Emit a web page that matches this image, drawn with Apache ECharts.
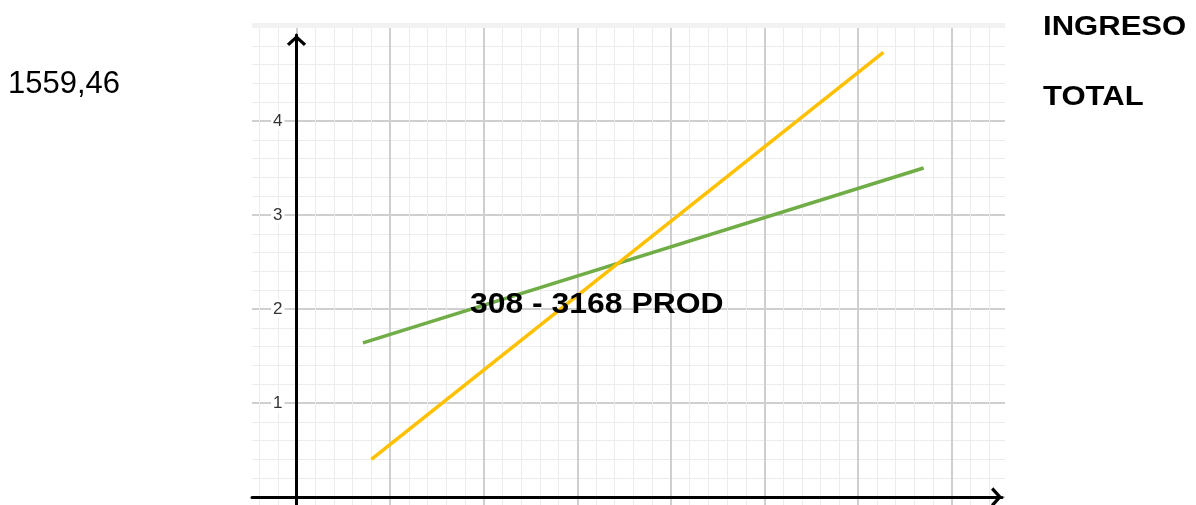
<!DOCTYPE html>
<html>
<head>
<meta charset="utf-8">
<script src="https://cdn.jsdelivr.net/npm/echarts@6/dist/echarts.min.js"></script>
<style>
html,body{margin:0;padding:0;background:#fff;}
#chart{width:1196px;height:505px;}
</style>
</head>
<body>
<div id="chart"></div>
<script>
// ---- data ----
const ingresoX = [0.80, 6.27];
const ingresoY = [0.40, 4.73];
const costoX = [0.71, 6.70];
const costoY = [1.64, 3.50];
const yTickLabels = ['1', '2', '3', '4'];
const leftNote = '1559,46';
const titleLines = ['INGRESO', 'TOTAL'];
const centerNote = '308 - 3168 PROD';

// ---- layout ----
const OX = 296.5, OY = 497, UX = 93.6, UY = 94;
const LEFT = 252, RIGHT = 1002, TOP = 35, BOTTOM = 505;
const FONT = '"Liberation Sans", Arial, sans-serif';

const chev = 'path://M10,0 L20,9 L17.6,11.4 L10,4.4 L2.4,11.4 L0,9 Z';

const xMin = (LEFT - OX) / UX, xMax = (RIGHT - OX) / UX;
const yMin = (OY - BOTTOM) / UY, yMax = (OY - TOP) / UY;

function pair(xs, ys) { return xs.map((x, i) => [x, ys[i]]); }

const chart = echarts.init(document.getElementById('chart'), null, {renderer: 'canvas'});

const hide = {axisLine: {show: false}, axisTick: {show: false}, axisLabel: {show: false}};

const option = {
  animation: false,
  backgroundColor: '#fff',
  grid: [
    {left: LEFT, width: RIGHT - LEFT, top: TOP, height: BOTTOM - TOP},
    {left: OX - 0.4 * UX, width: 7.8 * UX, top: 27, height: BOTTOM - 27},
    {left: OX, width: 7 * UX, top: 27, height: BOTTOM - 27},
    {left: LEFT, width: 1005 - LEFT, top: OY - 5 * UY, height: 5 * UY},
    {left: OX, width: 100, top: OY - 5 * UY, height: 5 * UY}
  ],
  xAxis: [
    {gridIndex: 0, type: 'value', min: xMin, max: xMax, z: 4,
     axisLine: {show: true, onZero: true, lineStyle: {color: '#000', width: 3},
                symbol: ['none', chev], symbolSize: [20, 11], symbolOffset: [0, -5.5]},
     axisTick: {show: false}, axisLabel: {show: false}, splitLine: {show: false}},
    Object.assign({gridIndex: 1, type: 'value', min: -0.4, max: 7.4, interval: 0.2,
     splitLine: {show: true, lineStyle: {color: '#ececec', width: 1}}}, hide),
    Object.assign({gridIndex: 2, type: 'value', min: 0, max: 7, interval: 1,
     splitLine: {show: true, lineStyle: {color: '#cfcfcf', width: 2}}}, hide),
    {gridIndex: 3, type: 'value', min: 0, max: 1, show: false},
    {gridIndex: 4, type: 'value', min: 0, max: 1, show: false}
  ],
  yAxis: [
    {gridIndex: 0, type: 'value', min: yMin, max: yMax, z: 4,
     axisLine: {show: true, onZero: true, lineStyle: {color: '#000', width: 3},
                symbol: ['none', chev], symbolSize: [20, 11], symbolOffset: [0, -5.5]},
     axisTick: {show: false}, axisLabel: {show: false}, splitLine: {show: false}},
    {gridIndex: 1, type: 'value', min: 0, max: 1, show: false},
    {gridIndex: 2, type: 'value', min: 0, max: 1, show: false},
    Object.assign({gridIndex: 3, type: 'value', min: 0, max: 5, interval: 1,
     minorTick: {show: false, splitNumber: 5},
     minorSplitLine: {show: true, lineStyle: {color: '#ececec', width: 1}},
     splitLine: {show: true, lineStyle: {color: ['#cfcfcf', '#cfcfcf', '#cfcfcf', '#cfcfcf', '#cfcfcf', '#f1f1f1'], width: 2}}}, hide),
    {gridIndex: 4, type: 'value', min: 0, max: 5, interval: 1, z: 3,
     axisLine: {show: false}, axisTick: {show: false}, splitLine: {show: false},
     axisLabel: {show: true, margin: 12, color: '#333', fontSize: 17, fontFamily: FONT,
                 backgroundColor: '#fff', padding: [0, 2],
                 showMinLabel: false, showMaxLabel: false,
                 formatter: function (v) { const i = Math.round(v) - 1; return yTickLabels[i] || ''; }}}
  ],
  series: [
    {type: 'line', xAxisIndex: 0, yAxisIndex: 0, data: pair(costoX, costoY),
     showSymbol: false, symbol: 'none', z: 3,
     lineStyle: {color: '#70AD47', width: 3.5, cap: 'butt'}},
    {type: 'line', xAxisIndex: 0, yAxisIndex: 0, data: pair(ingresoX, ingresoY),
     showSymbol: false, symbol: 'none', z: 3,
     lineStyle: {color: '#FFC000', width: 3.5, cap: 'butt'}}
  ],
  graphic: [
    {type: 'rect', z: 1, shape: {x: LEFT, y: 23, width: 1005 - LEFT, height: 5}, style: {fill: '#f2f2f2'}, silent: true},
    {type: 'text', z: 10, x: 8, y: 84.5, style: {text: leftNote, font: '31px ' + FONT, fill: '#000', textAlign: 'left', textVerticalAlign: 'middle'}},
    {type: 'text', z: 10, x: 1043, y: 27.5, scaleX: 1.15, style: {text: titleLines[0], font: 'bold 27px ' + FONT, fill: '#000', textAlign: 'left', textVerticalAlign: 'middle'}},
    {type: 'text', z: 10, x: 1043, y: 98, scaleX: 1.15, style: {text: titleLines[1], font: 'bold 27px ' + FONT, fill: '#000', textAlign: 'left', textVerticalAlign: 'middle'}},
    {type: 'text', z: 10, x: 470, y: 305, scaleX: 1.1, style: {text: centerNote, font: 'bold 29px ' + FONT, fill: '#000', textAlign: 'left', textVerticalAlign: 'middle'}}
  ]
};
chart.setOption(option);
</script>
</body>
</html>
